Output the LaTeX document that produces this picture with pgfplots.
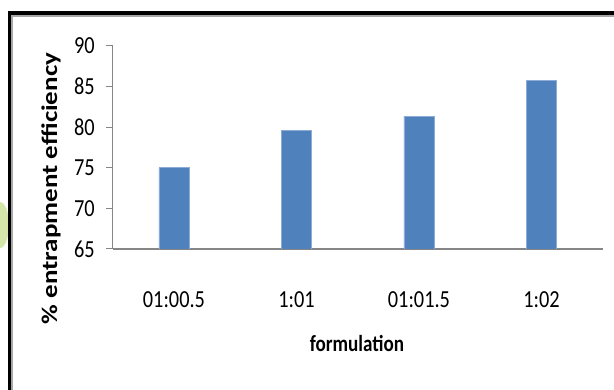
\documentclass[border=0pt]{standalone}
\usepackage{fontspec}
\setmainfont{Carlito}
\newfontfamily\narrowfont[FakeStretch=0.83]{Carlito}
\usepackage{graphicx}
\usepackage{pgfplots}
\pgfplotsset{compat=1.18}
\definecolor{barblue}{RGB}{79,129,189}
\definecolor{baredge}{RGB}{140,172,215}
\definecolor{axgray}{RGB}{134,134,134}
\definecolor{leaf}{RGB}{212,230,170}
\begin{document}
\begin{tikzpicture}
\useasboundingbox (0pt,0pt) rectangle (614pt,390pt);
% faint watermark leaf at left edge
\fill[leaf] (0pt,165pt) ellipse (9pt and 23pt);
% frame
\draw[black, line width=3.4pt] (9.6pt,-10pt) -- (9.6pt,377pt) -- (630pt,377pt);
\draw[gray!70, line width=2pt] (12.3pt,-10pt) -- (12.3pt,374pt) -- (630pt,374pt);
\begin{axis}[
  at={(112.7pt,141pt)}, anchor=south west,
  scale only axis, width=490pt, height=203.3pt,
  xmin=-0.5, xmax=3.5, ymin=65, ymax=90,
  ytick={65,70,...,90},
  xtick={0,1,2,3},
  xticklabels={01:00.5,1:01,01:01.5,1:02},
  axis lines=left,
  axis line style={-, draw=axgray, line width=1.2pt},
  tick align=outside,
  major tick length=6.7pt,
  ytick style={draw=axgray, line width=1pt},
  xtick style={draw=none},
  /pgf/number format/assume math mode=true,
  ticklabel style={font=\narrowfont\fontsize{24.5}{24.5}\selectfont, text=black},
  yticklabel style={anchor=east, inner sep=0pt, xshift=-11pt},
  xticklabel style={anchor=base, inner sep=0pt, yshift=-52pt},
  xlabel={\narrowfont\fontsize{23}{23}\selectfont\bfseries formulation},
  xlabel style={at={(axis description cs:0.4986,-0.5066)}, anchor=base, inner sep=0pt},
  ylabel={\scalebox{1}[0.83]{\fontsize{27}{27}\selectfont\bfseries\% entrapment efficiency}},
  ylabel style={at={(axis description cs:-0.126,0.2976)}, anchor=center, inner sep=0pt},
  ybar, bar width=30pt,
  clip=true,
]
\addplot[fill=barblue, draw=baredge, line width=0.8pt] coordinates {(0,75.0) (1,79.6) (2,81.3) (3,85.7)};
\end{axis}
\end{tikzpicture}
\end{document}
